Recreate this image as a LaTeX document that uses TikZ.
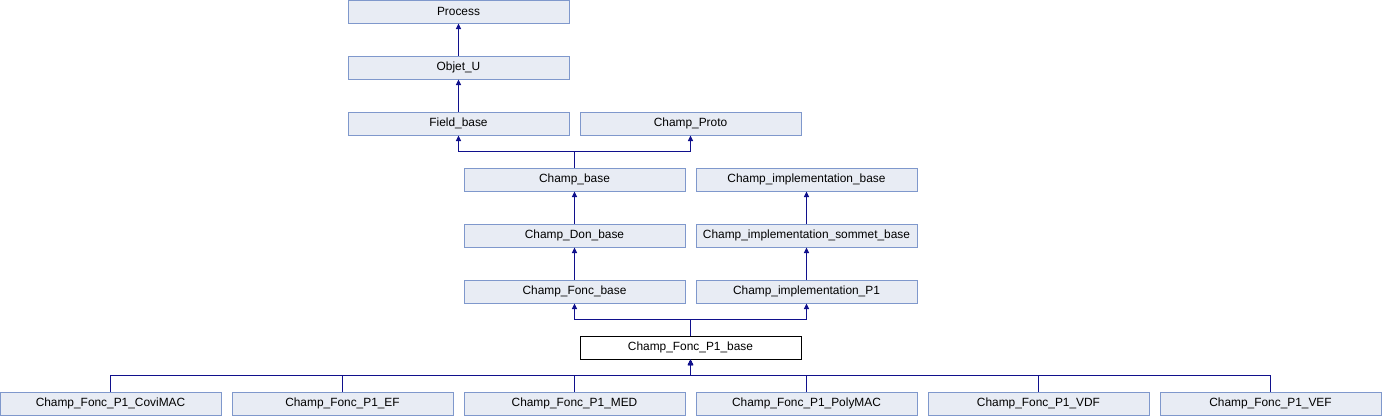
\documentclass[tikz,border=0pt]{standalone}
\usepackage{fontspec}
\setmainfont{Liberation Sans}
\usetikzlibrary{arrows.meta, positioning, calc}
\definecolor{boxfill}{HTML}{E8ECF4}
\definecolor{boxedge}{HTML}{7F98CC}
\definecolor{inhblue}{HTML}{10108C}

\begin{document}
\begin{tikzpicture}[x=1pt, y=-1pt,
  cls/.style={draw=boxedge, fill=boxfill, line width=1pt, minimum width=221pt,
    minimum height=23pt, inner sep=0pt, font=\fontsize{11.9}{14}\selectfont},
  cur/.style={cls, draw=black, fill=white},
  inh/.style={draw=inhblue, line width=1pt, -{Triangle[length=5.5pt, width=5pt]}}]

% Canvas
\useasboundingbox (0,0) rectangle (1382,416);

% Base chain
\node[cls] (process) at (458.5,11.5) {Process};
\node[cls] (objetu) at (458.5,67.5) {Objet\_U};
\node[cls] (fieldbase) at (458.5,123.5) {Field\_base};
\node[cls] (proto) at (690.5,123.5) {Champ\_Proto};

% Left column
\node[cls] (champbase) at (574.5,179.5) {Champ\_base};
\node[cls] (donbase) at (574.5,235.5) {Champ\_Don\_base};
\node[cls] (foncbase) at (574.5,291.5) {Champ\_Fonc\_base};

% Right column
\node[cls] (implbase) at (806.5,179.5) {Champ\_implementation\_base};
\node[cls] (sommet) at (806.5,235.5) {Champ\_implementation\_sommet\_base};
\node[cls] (implp1) at (806.5,291.5) {Champ\_implementation\_P1};

% Current class
\node[cur] (p1base) at (690.5,347.5) {Champ\_Fonc\_P1\_base};

% Derived classes
\node[cls] (covimac) at (110.5,403.5) {Champ\_Fonc\_P1\_CoviMAC};
\node[cls] (ef) at (342.5,403.5) {Champ\_Fonc\_P1\_EF};
\node[cls] (med) at (574.5,403.5) {Champ\_Fonc\_P1\_MED};
\node[cls] (polymac) at (806.5,403.5) {Champ\_Fonc\_P1\_PolyMAC};
\node[cls] (vdf) at (1038.5,403.5) {Champ\_Fonc\_P1\_VDF};
\node[cls] (vef) at (1270.5,403.5) {Champ\_Fonc\_P1\_VEF};

% Inheritance arrows
\draw[inh] (objetu.north) -- (process.south);
\draw[inh] (fieldbase.north) -- (objetu.south);
\draw[inh] (champbase.north) -- ++(0,-16) -| (fieldbase.south);
\draw[inh] (champbase.north) -- ++(0,-16) -| (proto.south);
\draw[inh] (donbase.north) -- (champbase.south);
\draw[inh] (foncbase.north) -- (donbase.south);
\draw[inh] (sommet.north) -- (implbase.south);
\draw[inh] (implp1.north) -- (sommet.south);
\draw[inh] (p1base.north) -- ++(0,-16) -| (foncbase.south);
\draw[inh] (p1base.north) -- ++(0,-16) -| (implp1.south);
\foreach \d in {covimac, ef, med, polymac, vdf, vef}
  \draw[inh] (\d.north) -- ++(0,-16) -| (p1base.south);

\end{tikzpicture}
\end{document}
